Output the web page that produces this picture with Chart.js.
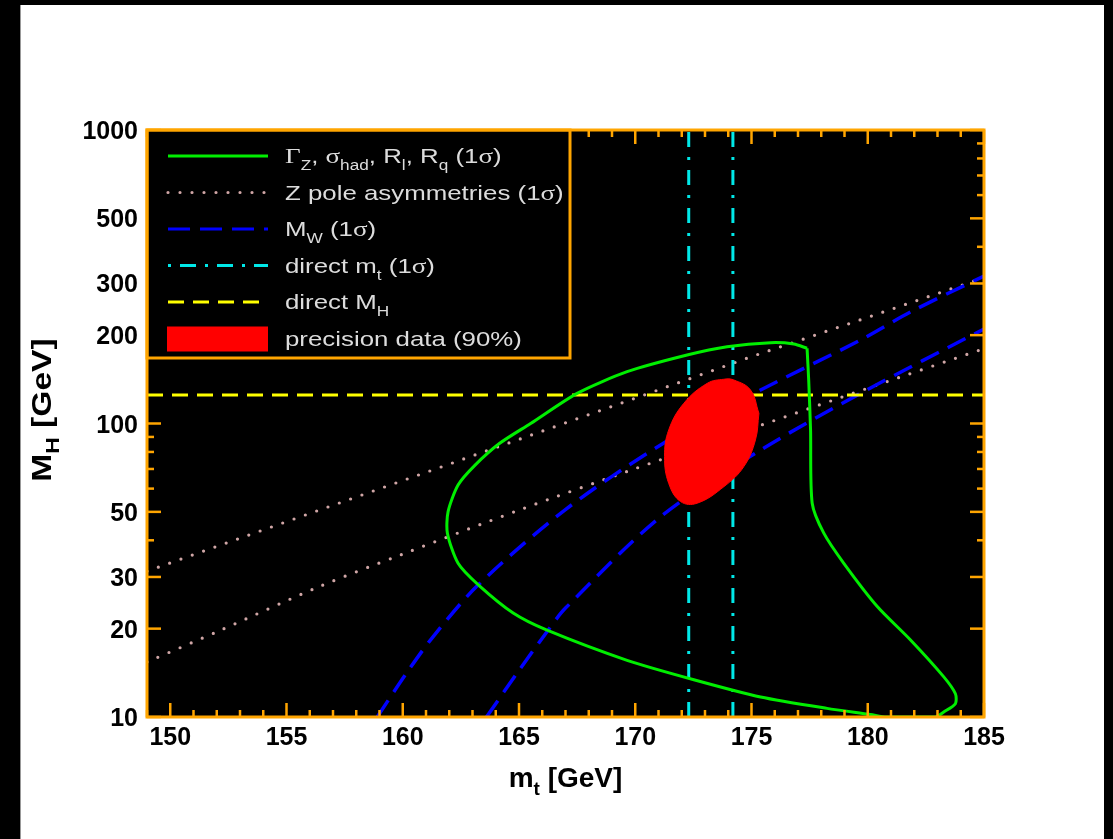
<!DOCTYPE html>
<html>
<head>
<meta charset="utf-8">
<script src="https://cdn.jsdelivr.net/npm/chart.js@4.4.0/dist/chart.umd.min.js"></script>
<style>
  html, body { margin: 0; padding: 0; background: #000; overflow: hidden; }
  #edge { position: absolute; left: 20px; top: 5px; width: 1px; height: 834px; background: #999; }
  #page { position: absolute; left: 21px; top: 5px; width: 1083px; height: 834px; background: #fff; }
  canvas { position: absolute; left: 0; top: 0; }
</style>
</head>
<body>
<div id="edge"></div>
<div id="page"><canvas id="chart" width="1083" height="834"></canvas></div>
<script>
// axis ranges and ticks
const mtRange = [149, 185];
const mhRange = [10, 1000];
const mtTickLabels = [150, 155, 160, 165, 170, 175, 180, 185];
const mhTickLabels = [10, 20, 30, 50, 100, 200, 300, 500, 1000];
const mhMinorTicks = [40, 60, 70, 80, 90, 400, 600, 700, 800, 900];

// Gamma_Z, sigma_had, R_l, R_q (1 sigma) contour
const gzMt = [177.39, 176.82, 175.82, 173.95, 172.23, 169.65, 167.5, 165.5, 164.17, 163.1, 162.38, 161.95, 161.92, 162.38, 163.25, 164.75, 166.18, 169.65, 172.52, 175.39, 178.25, 180.12, 180.8, 182.9, 183.27, 183.77, 183.77, 183.27, 181.84, 180.41, 178.97, 178.11, 177.61, 177.54, 177.46, 177.39];
const gzMH = [180.4, 186.6, 188.5, 182.7, 171.2, 150.2, 126.7, 100, 85.6, 72, 61.7, 50.1, 42.3, 33.4, 28.2, 22.6, 19.8, 15.6, 13.4, 11.7, 10.7, 10.2, 10, 10, 10.4, 11.1, 12.0, 13.7, 18.3, 23.8, 33.4, 42.3, 53.5, 95.1, 140.7, 180.4];

// Z pole asymmetries (1 sigma) band edges
const zUpperMt = [149, 155, 160, 165, 170, 175, 180, 185];
const zUpperMH = [31.4, 46.3, 63.9, 88.3, 122, 169, 230, 314];
const zLowerMt = [149, 152, 156.4, 160, 165, 170, 175, 180, 185];
const zLowerMH = [15.4, 19.5, 27.8, 35.9, 50.7, 70.2, 96.2, 131.9, 180];

// M_W (1 sigma) band edges
const mwUpperMt = [158.9, 160.16, 161.31, 163.25, 166.97, 171.09, 175.39, 179.69, 181.84, 185];
const mwUpperMH = [10, 14.1, 18.8, 28.2, 50.7, 84.5, 130, 192.5, 240, 318];
const mwLowerMt = [163.6, 164.97, 166.26, 167.0, 171.09, 175.39, 179.69, 185];
const mwLowerMH = [10, 14.3, 19.8, 23.5, 48.1, 81.2, 126.7, 210];

// direct measurements
const directMt = [172.3, 174.2];
const directMH = 125;

// precision data (90%) region
const precMt = [175.32, 175.17, 174.67, 173.81, 172.66, 171.95, 171.44, 171.26, 171.44, 172.09, 173.10, 173.81, 174.24, 174.96, 175.32];
const precMH = [108.3, 87.9, 71.3, 60.9, 53.5, 54.2, 62.5, 77.1, 95.1, 117.2, 137.1, 141.5, 140.7, 130, 108.3];

// legend text: [text, 0 = normal, 1 = subscript, 2 = greek glyph]
const legendLabels = [
    [["\u0393", 2], ["Z", 1], [", ", 0], ["\u03c3", 2], ["had", 1], [", R", 0], ["l", 1], [", R", 0], ["q", 1], [" (1", 0], ["\u03c3", 2], [")", 0]],
    [["Z pole asymmetries (1", 0], ["\u03c3", 2], [")", 0]],
    [["M", 0], ["W", 1], [" (1", 0], ["\u03c3", 2], [")", 0]],
    [["direct m", 0], ["t", 1], [" (1", 0], ["\u03c3", 2], [")", 0]],
    [["direct M", 0], ["H", 1]],
    [["precision data (90%)", 0]]
];

const orange = "#ffa500";
const green = "#00ee00";
const pink = "#d0a6a6";
const blue = "#0000ff";
const cyan = "#00e8e8";
const yellow = "#ffff00";
const red = "#ff0000";

const pts = (xs, ys) => xs.map((x, i) => ({ x: x, y: ys[i] }));

function lineSet(data, color, width, dash, tension, cap) {
    return {
        data: data,
        showLine: true,
        borderColor: color,
        backgroundColor: color,
        borderWidth: width,
        borderDash: dash,
        borderCapStyle: cap || "butt",
        tension: tension || 0,
        pointRadius: 0,
        fill: false
    };
}

function partFont(weight, kind, size, subSize) {
    if (kind === 1) return weight + " " + subSize + "px 'Liberation Sans', Arial, sans-serif";
    if (kind === 2) return weight + " " + (size + 1) + "px 'Liberation Serif', 'DejaVu Serif', serif";
    return weight + " " + size + "px 'Liberation Sans', Arial, sans-serif";
}

function richWidth(ctx, parts, weight, size, subSize) {
    let w = 0;
    parts.forEach(([t, kind]) => {
        ctx.font = partFont(weight, kind, size, subSize);
        w += ctx.measureText(t).width;
    });
    return w;
}

function richText(ctx, parts, x, y, weight, size, subSize, subDy, sx) {
    ctx.save();
    ctx.translate(x, y);
    ctx.scale(sx, 1);
    let cx = 0;
    parts.forEach(([t, kind]) => {
        ctx.font = partFont(weight, kind, size, subSize);
        ctx.fillText(t, cx, kind === 1 ? subDy : 0);
        cx += ctx.measureText(t).width;
    });
    ctx.restore();
}

function seg(ctx, x1, y1, x2, y2) {
    ctx.beginPath();
    ctx.moveTo(x1, y1);
    ctx.lineTo(x2, y2);
    ctx.stroke();
}

const frame = {
    id: "frame",
    beforeDraw(chart) {
        const a = chart.chartArea;
        const ctx = chart.ctx;
        ctx.save();
        ctx.fillStyle = "#000";
        ctx.fillRect(a.left, a.top, a.right - a.left, a.bottom - a.top);
        ctx.restore();
    },
    afterDatasetsDraw(chart) {
        const a = chart.chartArea;
        const ctx = chart.ctx;
        const xs = chart.scales.x;
        const ys = chart.scales.y;
        ctx.save();

        // ticks, inward on all four sides
        ctx.strokeStyle = orange;
        ctx.lineWidth = 2.5;
        for (let v = mtRange[0]; v <= mtRange[1]; v++) {
            const px = xs.getPixelForValue(v);
            const len = mtTickLabels.includes(v) ? 14 : 7;
            seg(ctx, px, a.bottom, px, a.bottom - len);
            seg(ctx, px, a.top, px, a.top + len);
        }
        mhTickLabels.concat(mhMinorTicks).forEach(v => {
            const py = ys.getPixelForValue(v);
            const len = mhTickLabels.includes(v) ? 14 : 7;
            seg(ctx, a.left, py, a.left + len, py);
            seg(ctx, a.right, py, a.right - len, py);
        });

        // legend box
        const lx = a.left, ly = a.top, lw = 423, lh = 228;
        ctx.fillStyle = "#000";
        ctx.fillRect(lx, ly, lw, lh);
        ctx.strokeStyle = orange;
        ctx.lineWidth = 3;
        ctx.strokeRect(lx, ly, lw, lh);

        const samples = [
            { color: green, dash: [], width: 3, cap: "butt" },
            { color: pink, dash: [0, 12], width: 3.2, cap: "round" },
            { color: blue, dash: [22, 10], width: 3, cap: "butt" },
            { color: cyan, dash: [3, 9, 16, 9], width: 3, cap: "butt" },
            { color: yellow, dash: [16, 9], width: 3, cap: "butt" }
        ];
        legendLabels.forEach((parts, i) => {
            const ry = ly + 26 + i * 36.5;
            if (i < samples.length) {
                ctx.strokeStyle = samples[i].color;
                ctx.lineWidth = samples[i].width;
                ctx.lineCap = samples[i].cap;
                ctx.setLineDash(samples[i].dash);
                seg(ctx, lx + 21, ry, lx + 121, ry);
                ctx.setLineDash([]);
                ctx.lineCap = "butt";
            } else {
                ctx.fillStyle = red;
                ctx.fillRect(lx + 20, ry - 12, 101, 25);
            }
            ctx.fillStyle = "#dcdcdc";
            ctx.textBaseline = "alphabetic";
            ctx.textAlign = "left";
            richText(ctx, parts, lx + 138, ry + 7, "normal", 21, 14, 7, 1.23);
        });

        // frame border
        ctx.strokeStyle = orange;
        ctx.lineWidth = 3;
        ctx.strokeRect(a.left, a.top, a.right - a.left, a.bottom - a.top);

        // tick labels
        ctx.fillStyle = "#000";
        ctx.font = "bold 25px 'Liberation Sans', Arial, sans-serif";
        ctx.textAlign = "center";
        ctx.textBaseline = "alphabetic";
        mtTickLabels.forEach(v => {
            ctx.fillText(String(v), xs.getPixelForValue(v), a.bottom + 28);
        });
        ctx.textAlign = "right";
        mhTickLabels.forEach(v => {
            ctx.fillText(String(v), a.left - 9, ys.getPixelForValue(v) + 9);
        });

        // axis titles
        ctx.textAlign = "left";
        const xt = [["m", 0], ["t", 1], [" [GeV]", 0]];
        const xw = richWidth(ctx, xt, "bold", 28, 19);
        richText(ctx, xt, (a.left + a.right) / 2 - xw / 2, a.bottom + 70, "bold", 28, 19, 8, 1);

        const yt = [["M", 0], ["H", 1], [" [GeV]", 0]];
        const yw = richWidth(ctx, yt, "bold", 28, 19) * 1.2;
        ctx.save();
        ctx.translate(30, 405);
        ctx.rotate(-Math.PI / 2);
        richText(ctx, yt, -yw / 2, 0, "bold", 28, 19, 8, 1.2);
        ctx.restore();

        ctx.restore();
    }
};

const datasets = [
    Object.assign(lineSet(pts(precMt, precMH), red, 1, [], 0.4), { fill: "shape" }),
    lineSet(pts(gzMt, gzMH), green, 3, [], 0.25),
    lineSet(pts([directMt[0], directMt[0]], mhRange), cyan, 3, [15, 10, 3, 10]),
    lineSet(pts([directMt[1], directMt[1]], mhRange), cyan, 3, [15, 10, 3, 10]),
    lineSet(pts(mtRange, [directMH, directMH]), yellow, 3, [16, 9]),
    lineSet(pts(mwUpperMt, mwUpperMH), blue, 3.5, [20, 10], 0.3),
    lineSet(pts(mwLowerMt, mwLowerMH), blue, 3.5, [20, 10], 0.3),
    lineSet(pts(zUpperMt, zUpperMH), pink, 3.2, [0, 12], 0, "round"),
    lineSet(pts(zLowerMt, zLowerMH), pink, 3.2, [0, 12], 0.3, "round")
];

new Chart(document.getElementById("chart"), {
    type: "scatter",
    data: { datasets: datasets },
    options: {
        responsive: false,
        animation: false,
        layout: { padding: { left: 126, right: 120, top: 125, bottom: 122 } },
        plugins: { legend: { display: false }, tooltip: { enabled: false } },
        scales: {
            x: { type: "linear", min: mtRange[0], max: mtRange[1], display: false },
            y: { type: "logarithmic", min: mhRange[0], max: mhRange[1], display: false }
        }
    },
    plugins: [frame]
});
</script>
</body>
</html>
